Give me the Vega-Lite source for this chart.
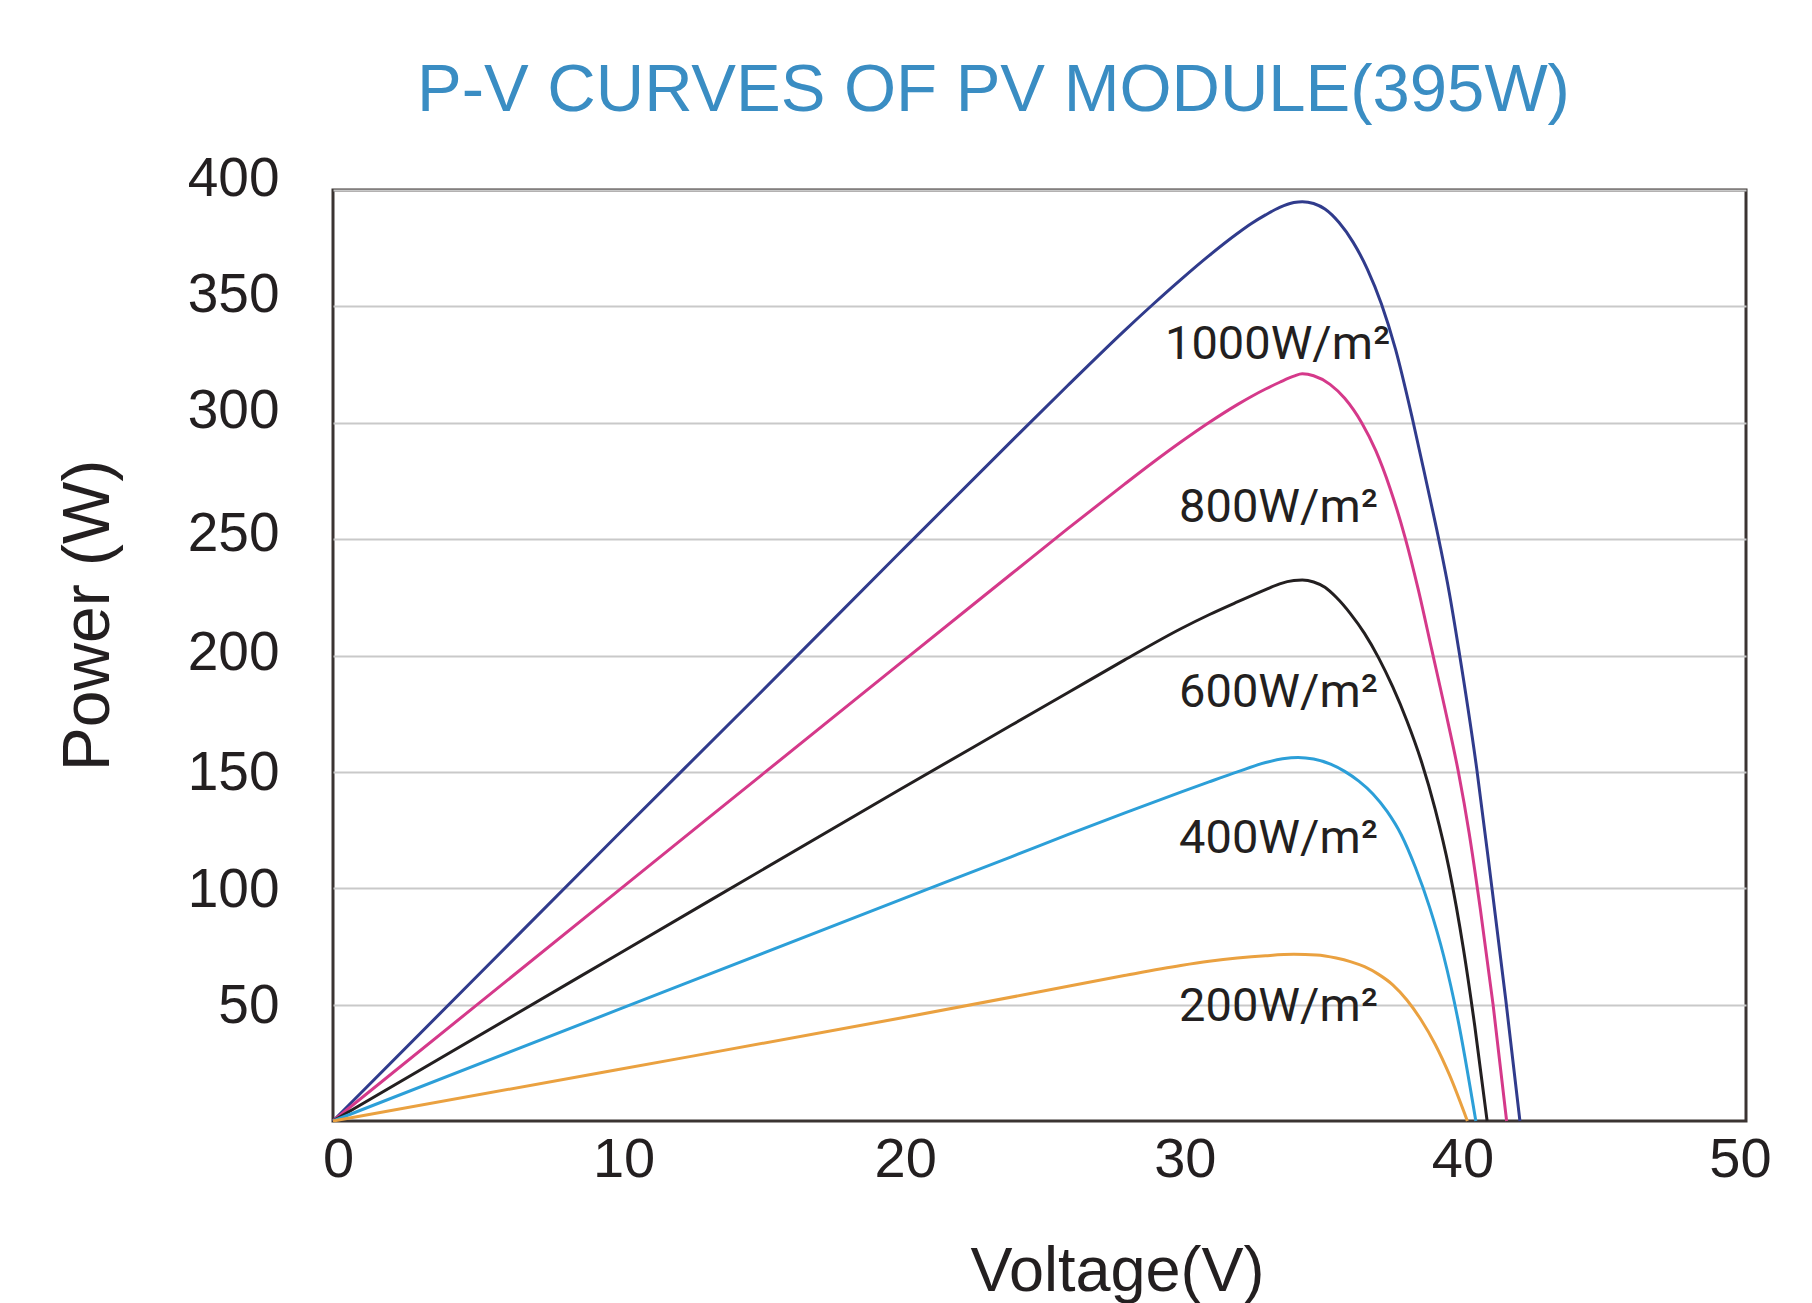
{
  "$schema": "https://vega.github.io/schema/vega-lite/v6.json",
  "autosize": {"type": "none"},
  "width": 1413,
  "height": 931,
  "padding": {"left": 333, "top": 190, "right": 66, "bottom": 182},
  "background": "white",
  "config": {
    "view": {"stroke": "#3b3432", "strokeWidth": 3},
    "axis": {"domain": false, "ticks": false}
  },
  "title": {
    "text": "P-V CURVES OF PV MODULE(395W)",
    "color": "#3a8dc3",
    "font": "Liberation Sans",
    "fontSize": 67,
    "fontWeight": "normal",
    "anchor": "middle",
    "dx": -46,
    "offset": -27,
    "baseline": "alphabetic"
  },
  "datasets": {
    "curves": [
      {"g": "1000", "v": 0, "p": 0}, {"g": "1000", "v": 5, "p": 61}, {"g": "1000", "v": 10, "p": 122}, {"g": "1000", "v": 15, "p": 182.5}, {"g": "1000", "v": 20, "p": 243.5}, {"g": "1000", "v": 24, "p": 292}, {"g": "1000", "v": 26, "p": 316}, {"g": "1000", "v": 28, "p": 339.5}, {"g": "1000", "v": 29, "p": 350.7}, {"g": "1000", "v": 30, "p": 361.5}, {"g": "1000", "v": 31, "p": 371.8}, {"g": "1000", "v": 32, "p": 381.3}, {"g": "1000", "v": 32.5, "p": 385.6}, {"g": "1000", "v": 33, "p": 389.3}, {"g": "1000", "v": 33.5, "p": 392.5}, {"g": "1000", "v": 34.0, "p": 394.6}, {"g": "1000", "v": 34.3, "p": 395}, {"g": "1000", "v": 34.7, "p": 394.2}, {"g": "1000", "v": 35.1, "p": 391.8}, {"g": "1000", "v": 35.6, "p": 386}, {"g": "1000", "v": 36.1, "p": 377.5}, {"g": "1000", "v": 36.6, "p": 366}, {"g": "1000", "v": 37.1, "p": 351}, {"g": "1000", "v": 37.6, "p": 331.5}, {"g": "1000", "v": 38.2, "p": 301.5}, {"g": "1000", "v": 38.7, "p": 274}, {"g": "1000", "v": 39.17, "p": 247.5}, {"g": "1000", "v": 39.5, "p": 227}, {"g": "1000", "v": 39.83, "p": 203}, {"g": "1000", "v": 40.47, "p": 151.5}, {"g": "1000", "v": 41.0, "p": 101}, {"g": "1000", "v": 41.5, "p": 52}, {"g": "1000", "v": 42.0, "p": 0},
      {"g": "800", "v": 0, "p": 0}, {"g": "800", "v": 10, "p": 98}, {"g": "800", "v": 20, "p": 196}, {"g": "800", "v": 24, "p": 235}, {"g": "800", "v": 26, "p": 254.5}, {"g": "800", "v": 28, "p": 273.5}, {"g": "800", "v": 29, "p": 282.8}, {"g": "800", "v": 30, "p": 291.7}, {"g": "800", "v": 31, "p": 300.1}, {"g": "800", "v": 32, "p": 307.8}, {"g": "800", "v": 32.5, "p": 311.3}, {"g": "800", "v": 33, "p": 314.5}, {"g": "800", "v": 33.5, "p": 317.4}, {"g": "800", "v": 34.0, "p": 320}, {"g": "800", "v": 34.3, "p": 321}, {"g": "800", "v": 34.7, "p": 320.2}, {"g": "800", "v": 35.28, "p": 316.5}, {"g": "800", "v": 35.8, "p": 310.5}, {"g": "800", "v": 36.4, "p": 300}, {"g": "800", "v": 36.9, "p": 288}, {"g": "800", "v": 37.4, "p": 272}, {"g": "800", "v": 37.93, "p": 251}, {"g": "800", "v": 38.4, "p": 228.5}, {"g": "800", "v": 38.88, "p": 202.5}, {"g": "800", "v": 39.35, "p": 177}, {"g": "800", "v": 39.83, "p": 149.5}, {"g": "800", "v": 40.2, "p": 124}, {"g": "800", "v": 40.6, "p": 91}, {"g": "800", "v": 41.05, "p": 50}, {"g": "800", "v": 41.53, "p": 0},
      {"g": "600", "v": 0, "p": 0}, {"g": "600", "v": 10, "p": 71}, {"g": "600", "v": 20, "p": 142}, {"g": "600", "v": 24, "p": 170}, {"g": "600", "v": 26, "p": 184}, {"g": "600", "v": 28, "p": 198}, {"g": "600", "v": 30, "p": 211.5}, {"g": "600", "v": 31, "p": 217.5}, {"g": "600", "v": 32, "p": 223}, {"g": "600", "v": 33, "p": 228.3}, {"g": "600", "v": 33.5, "p": 230.8}, {"g": "600", "v": 34.0, "p": 232.2}, {"g": "600", "v": 34.3, "p": 232.4}, {"g": "600", "v": 34.7, "p": 231.6}, {"g": "600", "v": 35.1, "p": 229.3}, {"g": "600", "v": 35.5, "p": 225}, {"g": "600", "v": 36.0, "p": 218}, {"g": "600", "v": 36.5, "p": 209.5}, {"g": "600", "v": 37.0, "p": 199}, {"g": "600", "v": 37.5, "p": 186.5}, {"g": "600", "v": 38.0, "p": 172}, {"g": "600", "v": 38.5, "p": 155}, {"g": "600", "v": 39.0, "p": 134}, {"g": "600", "v": 39.5, "p": 108}, {"g": "600", "v": 40.0, "p": 74}, {"g": "600", "v": 40.4, "p": 41}, {"g": "600", "v": 40.84, "p": 0},
      {"g": "400", "v": 0, "p": 0}, {"g": "400", "v": 10, "p": 47.4}, {"g": "400", "v": 20, "p": 94.7}, {"g": "400", "v": 24, "p": 113.5}, {"g": "400", "v": 26, "p": 123}, {"g": "400", "v": 28, "p": 132.3}, {"g": "400", "v": 30, "p": 141.3}, {"g": "400", "v": 31, "p": 145.7}, {"g": "400", "v": 32, "p": 150}, {"g": "400", "v": 33, "p": 154}, {"g": "400", "v": 33.6, "p": 155.6}, {"g": "400", "v": 34.15, "p": 156.2}, {"g": "400", "v": 34.7, "p": 155.5}, {"g": "400", "v": 35.3, "p": 153.3}, {"g": "400", "v": 35.8, "p": 150.2}, {"g": "400", "v": 36.3, "p": 146}, {"g": "400", "v": 36.8, "p": 140.5}, {"g": "400", "v": 37.3, "p": 133}, {"g": "400", "v": 37.8, "p": 123}, {"g": "400", "v": 38.3, "p": 109}, {"g": "400", "v": 38.8, "p": 92}, {"g": "400", "v": 39.3, "p": 71}, {"g": "400", "v": 39.8, "p": 44}, {"g": "400", "v": 40.44, "p": 0},
      {"g": "200", "v": 0, "p": 0}, {"g": "200", "v": 10, "p": 21.9}, {"g": "200", "v": 20, "p": 44}, {"g": "200", "v": 25, "p": 55.5}, {"g": "200", "v": 28, "p": 62.5}, {"g": "200", "v": 30, "p": 66.8}, {"g": "200", "v": 31, "p": 68.6}, {"g": "200", "v": 32, "p": 70}, {"g": "200", "v": 33, "p": 71}, {"g": "200", "v": 34, "p": 71.6}, {"g": "200", "v": 34.8, "p": 71.3}, {"g": "200", "v": 35.5, "p": 70}, {"g": "200", "v": 36.0, "p": 68.5}, {"g": "200", "v": 36.5, "p": 66.3}, {"g": "200", "v": 37.0, "p": 63}, {"g": "200", "v": 37.5, "p": 58.5}, {"g": "200", "v": 38.0, "p": 52}, {"g": "200", "v": 38.5, "p": 43.5}, {"g": "200", "v": 39.0, "p": 33}, {"g": "200", "v": 39.5, "p": 20}, {"g": "200", "v": 40.14, "p": 0}
    ],
    "labels": [
      {"t": "1000W/m²", "v": 29.44, "p": 333.4},
      {"t": "800W/m²", "v": 29.94, "p": 263.4},
      {"t": "600W/m²", "v": 29.94, "p": 184.1},
      {"t": "400W/m²", "v": 29.94, "p": 121.2},
      {"t": "200W/m²", "v": 29.94, "p": 48.8}
    ]
  },
  "layer": [
    {
      "data": {"name": "curves"},
      "mark": {"type": "line", "interpolate": "monotone", "strokeWidth": 3},
      "encoding": {
        "x": {
          "field": "v", "type": "quantitative",
          "scale": {"domain": [0, 50], "nice": false, "zero": false},
          "axis": {
            "values": [0, 10, 20, 30, 40, 50],
            "grid": false,
            "labelFlush": false,
            "labelFont": "Liberation Sans",
            "labelFontSize": 56,
            "labelColor": "#231f20",
            "labelPadding": 11,
            "labelOffset": {"condition": [{"test": "datum.value == 0", "value": 5}, {"test": "datum.value == 10", "value": 8}, {"test": "datum.value == 20", "value": 7}, {"test": "datum.value == 30", "value": 4}, {"test": "datum.value == 40", "value": -1}], "value": -6},
            "title": "Voltage(V)",
            "titleFont": "Liberation Sans",
            "titleFontSize": 63,
            "titleFontWeight": "normal",
            "titleColor": "#231f20",
            "titleX": 784,
            "titleY": 169,
            "titleAlign": "center",
            "titleBaseline": "alphabetic"
          }
        },
        "y": {
          "field": "p", "type": "quantitative",
          "scale": {"domain": [0, 400], "nice": false},
          "axis": {
            "values": [50, 100, 150, 200, 250, 300, 350, 400],
            "grid": true,
            "gridColor": "#c9c9c9",
            "gridWidth": 2,
            "labelFont": "Liberation Sans",
            "labelFontSize": 55,
            "labelColor": "#231f20",
            "labelPadding": 54,
            "labelOffset": {"condition": [{"test": "datum.value >= 300", "value": -12}, {"test": "datum.value == 250", "value": -6}, {"test": "datum.value == 200", "value": -3}], "value": 1},
            "title": "Power (W)",
            "titleFont": "Liberation Sans",
            "titleFontSize": 66,
            "titleFontWeight": "normal",
            "titleColor": "#231f20",
            "titleX": -245,
            "titleY": 425,
            "titleAngle": 270,
            "titleAlign": "center",
            "titleBaseline": "middle"
          }
        },
        "color": {
          "field": "g", "type": "nominal",
          "scale": {"domain": ["1000", "800", "600", "400", "200"], "range": ["#303b8c", "#d5398a", "#231f20", "#2c9fd8", "#eaa140"]},
          "legend": null
        }
      }
    },
    {
      "data": {"name": "labels"},
      "mark": {"type": "text", "align": "left", "baseline": "middle", "font": "Roboto", "fontSize": 47, "color": "#231f20"},
      "encoding": {
        "x": {"field": "v", "type": "quantitative"},
        "y": {"field": "p", "type": "quantitative"},
        "text": {"field": "t"}
      }
    }
  ]
}
